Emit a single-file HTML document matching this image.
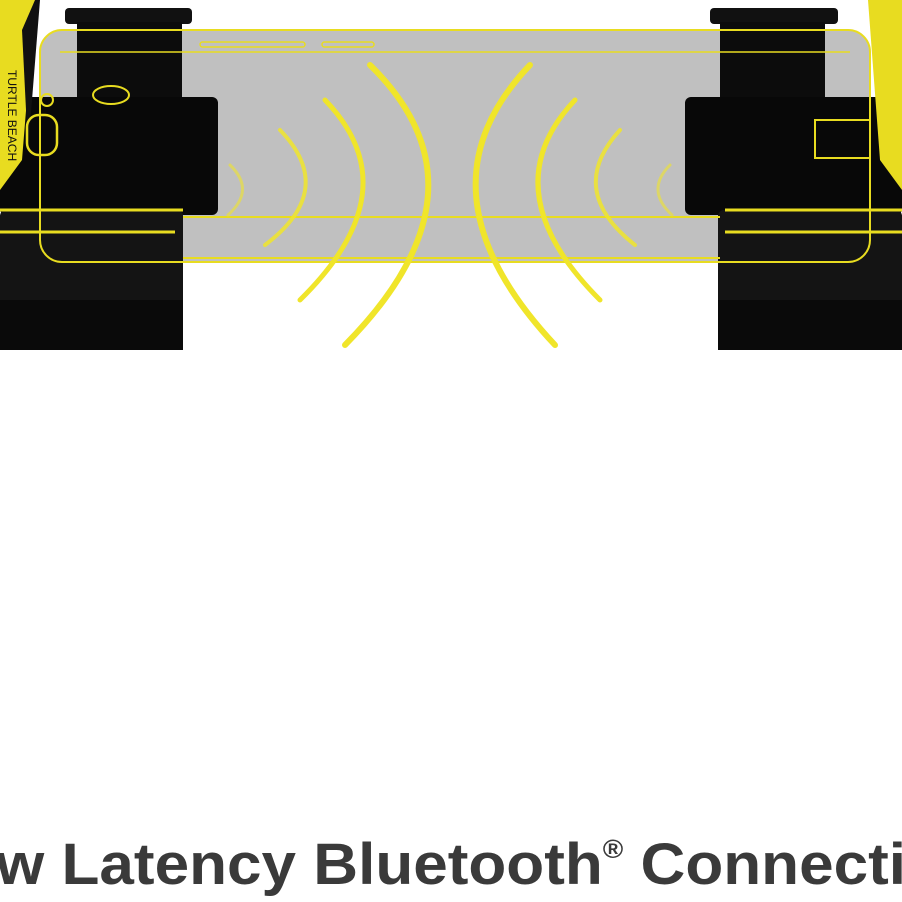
<!DOCTYPE html>
<html><head><style>html,body{margin:0;padding:0;background:#fff;width:902px;height:902px;overflow:hidden}</style></head>
<body>
<svg width="902" height="902" viewBox="0 0 902 902" xmlns="http://www.w3.org/2000/svg">
<rect width="902" height="902" fill="#fff"/>
<!-- phone -->
<rect x="40" y="30" width="830" height="232" rx="22" fill="#bdbdbd" opacity="0.95"/>
<!-- left controller -->
<rect x="65" y="8" width="127" height="16" rx="4" fill="#111"/>
<rect x="77" y="22" width="105" height="90" fill="#0c0c0c"/>
<rect x="0" y="97" width="218" height="118" rx="6" fill="#080808"/>
<rect x="0" y="210" width="183" height="140" rx="6" fill="#141414"/>
<rect x="0" y="300" width="183" height="50" fill="#0a0a0a"/>
<path d="M0,0 L35,0 L22,160 L0,190 Z" fill="#e8dc20"/>
<path d="M22,30 L35,0 L40,0 L28,150 Z" fill="#111"/>
<text x="0" y="0" transform="translate(8,70) rotate(90)" font-family="Liberation Sans,sans-serif" font-size="12" fill="#111">TURTLE BEACH</text>
<ellipse cx="111" cy="95" rx="18" ry="9" fill="none" stroke="#e8dc20" stroke-width="2"/>
<rect x="27" y="115" width="30" height="40" rx="12" fill="none" stroke="#e8dc20" stroke-width="2.5"/>
<circle cx="47" cy="100" r="6" fill="none" stroke="#e8dc20" stroke-width="2"/>
<!-- right controller -->
<rect x="710" y="8" width="128" height="16" rx="4" fill="#111"/>
<rect x="720" y="22" width="105" height="90" fill="#0c0c0c"/>
<rect x="685" y="97" width="217" height="118" rx="6" fill="#080808"/>
<rect x="718" y="210" width="184" height="140" rx="6" fill="#141414"/>
<rect x="718" y="300" width="184" height="50" fill="#0a0a0a"/>
<path d="M868,0 L902,0 L902,190 L880,160 Z" fill="#e8dc20"/>
<rect x="815" y="120" width="55" height="38" fill="none" stroke="#e8dc20" stroke-width="2"/>
<!-- phone outlines -->
<g stroke="#e8dc20" fill="none" stroke-width="2">
<rect x="40" y="30" width="830" height="232" rx="22"/>
<line x1="60" y1="52" x2="850" y2="52" stroke-width="1.5"/>
<line x1="0" y1="210" x2="183" y2="210" stroke-width="3"/>
<line x1="0" y1="232" x2="175" y2="232" stroke-width="3"/>
<line x1="183" y1="217" x2="720" y2="217"/>
<line x1="183" y1="258" x2="720" y2="258"/>
<line x1="725" y1="210" x2="902" y2="210" stroke-width="3"/>
<line x1="725" y1="232" x2="902" y2="232" stroke-width="3"/>
<rect x="200" y="42" width="105" height="5" rx="2.5" stroke-width="1.5"/>
<rect x="322" y="42" width="52" height="5" rx="2.5" stroke-width="1.5"/>
</g>
<!-- waves -->
<g stroke="#f0e52a" fill="none" stroke-linecap="round">
<path d="M370,65 Q498,190 345,345" stroke-width="6"/>
<path d="M325,100 Q412,190 300,300" stroke-width="5"/>
<path d="M280,130 Q338,190 265,245" stroke-width="4" opacity="0.85"/>
<path d="M230,165 Q256,190 228,215" stroke-width="3" opacity="0.6"/>
<path d="M530,65 Q410,190 555,345" stroke-width="6"/>
<path d="M575,100 Q490,190 600,300" stroke-width="5"/>
<path d="M620,130 Q565,190 635,245" stroke-width="4" opacity="0.85"/>
<path d="M670,165 Q645,190 672,215" stroke-width="3" opacity="0.6"/>
</g>
<!-- caption -->
<text x="-4" y="884" textLength="910" lengthAdjust="spacingAndGlyphs" font-family="Liberation Sans,sans-serif" font-weight="bold" font-size="58" fill="#3a3a3a">w Latency Bluetooth<tspan font-size="26" dy="-26">®</tspan><tspan dy="26"> Connecti</tspan></text>
</svg>
</body></html>
